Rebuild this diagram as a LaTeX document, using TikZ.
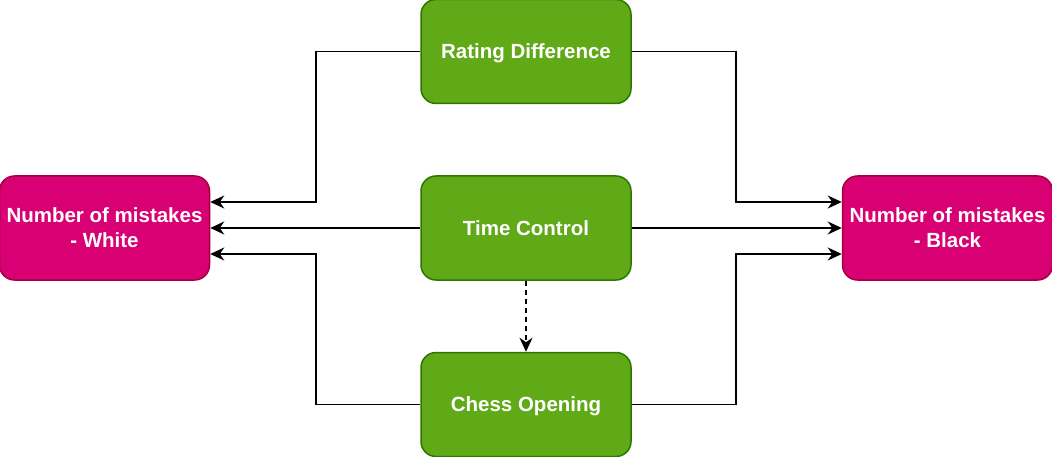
\documentclass[tikz,border=0pt]{standalone}
\usepackage{fontspec}
\setmainfont{Liberation Sans}
\usepackage{tikz}
\usetikzlibrary{arrows.meta,positioning}
\definecolor{factgreen}{HTML}{60A917}
\definecolor{factgreenline}{HTML}{2D7600}
\definecolor{outpink}{HTML}{D80073}
\definecolor{outpinkline}{HTML}{A50040}

\begin{document}
\begin{tikzpicture}[
    node distance=71pt and 210pt,
    font=\fontsize{20.5}{25}\selectfont\bfseries,
    factor/.style={
		rectangle,
		rounded corners=15pt,
		draw=factgreenline,
		line width=1.5pt,
		fill=factgreen,
		text=white,
		align=center,
		inner sep=0pt,
		text depth=0pt,
		minimum width=210pt,
		minimum height=104pt
	},
	outcome/.style={
		factor,
		draw=outpinkline,
		fill=outpink
	},
	link/.style={
		-{Stealth[length=14pt,width=13pt,inset=4.5pt]},
		draw=black,
		line width=1.6pt
	}
  ]
  \useasboundingbox (0pt,0pt) rectangle (1052pt,-457pt);
    % We start by placing the blocks

  \node [factor] (time) at (526pt,-228pt) {Time Control};
  \node [factor, above=of time] (rating) {Rating Difference};
  \node [factor, below=of time] (opening) {Chess Opening};

  \node [outcome, left=of time] (white) {Number of mistakes\\- White};
  \node [outcome, right=of time] (black) {Number of mistakes\\- Black};

  % bend points of the elbow lines
  \coordinate (kneeL) at (316pt,0pt);
  \coordinate (kneeR) at (736pt,0pt);

 \draw [link] (rating) -- (rating -| kneeL) |- ([yshift=26pt]white.east);
 \draw [link] (time) -- (white);
 \draw [link] (opening) -- (opening -| kneeL) |- ([yshift=-26pt]white.east);

 \draw [link] (rating) -- (rating -| kneeR) |- ([yshift=26pt]black.west);
 \draw [link] (time) -- (black);
 \draw [link] (opening) -- (opening -| kneeR) |- ([yshift=-26pt]black.west);

 \draw [link, dash pattern=on 5pt off 4pt] (time) -- (opening);

\end{tikzpicture}
\end{document}
